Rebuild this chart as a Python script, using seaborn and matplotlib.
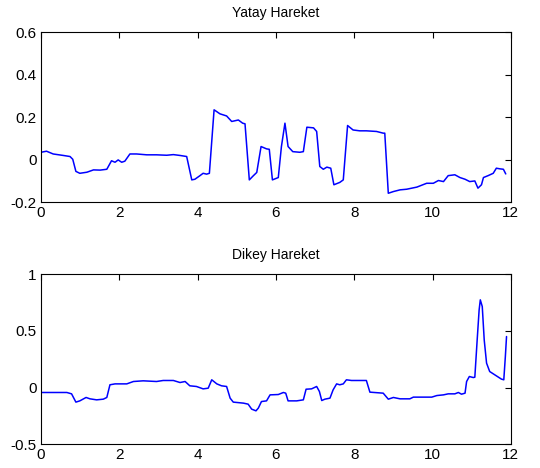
import matplotlib
matplotlib.use("Agg")
import matplotlib.pyplot as plt
import pandas as pd
import seaborn as sns

# Yatay (horizontal) movement
yatay_t = [0.0, 0.14, 0.31, 0.57, 0.74, 0.81, 0.89, 0.99, 1.17, 1.34, 1.51, 1.68,
           1.80, 1.89, 1.97, 2.06, 2.14, 2.27, 2.44, 2.70, 2.95, 3.21, 3.38, 3.55,
           3.72, 3.85, 3.93, 4.06, 4.14, 4.23, 4.30, 4.42, 4.57, 4.74, 4.87, 5.04,
           5.15, 5.21, 5.32, 5.42, 5.51, 5.62, 5.76, 5.83, 5.91, 6.06, 6.14, 6.23,
           6.31, 6.43, 6.61, 6.70, 6.79, 6.96, 7.04, 7.12, 7.21, 7.30, 7.40, 7.48,
           7.63, 7.72, 7.83, 7.97, 8.14, 8.31, 8.57, 8.74, 8.78, 8.87, 9.00, 9.17,
           9.34, 9.60, 9.85, 10.02, 10.15, 10.28, 10.40, 10.57, 10.70, 10.83, 10.95,
           11.08, 11.16, 11.25, 11.30, 11.42, 11.55, 11.63, 11.72, 11.81, 11.87]
yatay_v = [0.035, 0.04, 0.027, 0.02, 0.015, 0.002, -0.055, -0.064, -0.059, -0.048,
           -0.049, -0.045, -0.005, -0.012, -0.001, -0.012, -0.007, 0.027, 0.027,
           0.023, 0.023, 0.021, 0.024, 0.02, 0.015, -0.095, -0.092, -0.075, -0.064,
           -0.068, -0.064, 0.235, 0.216, 0.206, 0.18, 0.187, 0.172, 0.169, -0.095,
           -0.076, -0.06, 0.062, 0.051, 0.049, -0.095, -0.084, 0.062, 0.172, 0.062,
           0.038, 0.035, 0.038, 0.153, 0.15, 0.133, -0.032, -0.045, -0.035, -0.04,
           -0.118, -0.107, -0.095, 0.161, 0.14, 0.136, 0.136, 0.133, 0.125, 0.125,
           -0.158, -0.15, -0.142, -0.139, -0.129, -0.111, -0.111, -0.098, -0.103,
           -0.075, -0.071, -0.084, -0.092, -0.103, -0.1, -0.134, -0.118, -0.084,
           -0.075, -0.064, -0.04, -0.043, -0.045, -0.067]

# Dikey (vertical) movement
dikey_t = [0.0, 0.66, 0.78, 0.89, 0.99, 1.15, 1.25, 1.42, 1.59, 1.68, 1.76, 1.89,
           2.19, 2.36, 2.61, 2.95, 3.12, 3.38, 3.55, 3.68, 3.80, 3.97, 4.14, 4.27,
           4.36, 4.49, 4.61, 4.74, 4.83, 4.91, 5.17, 5.29, 5.38, 5.49, 5.55, 5.63,
           5.76, 5.85, 6.06, 6.19, 6.25, 6.31, 6.53, 6.70, 6.77, 6.91, 7.04, 7.11,
           7.17, 7.25, 7.38, 7.46, 7.55, 7.63, 7.72, 7.80, 7.93, 8.31, 8.40, 8.74,
           8.87, 9.00, 9.17, 9.42, 9.51, 9.98, 10.11, 10.28, 10.40, 10.57, 10.66,
           10.74, 10.83, 10.87, 10.94, 11.04, 11.08, 11.14, 11.19, 11.22, 11.27,
           11.32, 11.38, 11.46, 11.63, 11.76, 11.82, 11.86, 11.89]
dikey_v = [-0.044, -0.044, -0.056, -0.129, -0.118, -0.088, -0.1, -0.109, -0.103,
           -0.088, 0.024, 0.032, 0.032, 0.053, 0.059, 0.053, 0.062, 0.062, 0.044,
           0.053, 0.015, 0.009, -0.012, -0.006, 0.068, 0.032, 0.015, 0.009, -0.094,
           -0.129, -0.138, -0.147, -0.191, -0.206, -0.182, -0.124, -0.118, -0.065,
           -0.062, -0.044, -0.05, -0.118, -0.118, -0.109, -0.015, -0.012, 0.009,
           -0.035, -0.115, -0.103, -0.094, -0.021, 0.032, 0.024, 0.032, 0.068,
           0.062, 0.062, -0.041, -0.05, -0.103, -0.088, -0.1, -0.1, -0.085, -0.085,
           -0.071, -0.065, -0.056, -0.056, -0.044, -0.059, -0.05, 0.053, 0.097,
           0.088, 0.091, 0.42, 0.685, 0.774, 0.715, 0.42, 0.215, 0.141, 0.103,
           0.074, 0.068, 0.274, 0.45]

x_ticks = [0, 2, 4, 6, 8, 10, 12]
yatay_ticks = [-0.2, 0, 0.2, 0.4, 0.6]
yatay_ticklabels = ["-0.2", "0", "0.2", "0.4", "0.6"]
dikey_ticks = [-0.5, 0, 0.5, 1]
dikey_ticklabels = ["-0.5", "0", "0.5", "1"]

sns.set_style("white")
plt.rcParams["font.family"] = ["Liberation Sans", "DejaVu Sans"]
plt.rcParams["xtick.direction"] = "in"
plt.rcParams["ytick.direction"] = "in"

fig = plt.figure(figsize=(5.4, 4.68), dpi=100)
ax_top = fig.add_axes([0.076, 0.568, 0.870, 0.363])
ax_bot = fig.add_axes([0.076, 0.051, 0.870, 0.363])

panels = [
    (ax_top, yatay_t, yatay_v, "Yatay Hareket", (-0.2, 0.6), yatay_ticks, yatay_ticklabels),
    (ax_bot, dikey_t, dikey_v, "Dikey Hareket", (-0.5, 1), dikey_ticks, dikey_ticklabels),
]

for ax, t, v, title, ylim, yt, ytl in panels:
    df = pd.DataFrame({"t": t, "v": v})
    sns.lineplot(data=df, x="t", y="v", ax=ax, color="#0000ff", linewidth=1.1)
    ax.set_xlim(0, 12)
    ax.set_ylim(*ylim)
    ax.set_xticks(x_ticks)
    ax.set_xticklabels([str(x) for x in x_ticks])
    ax.set_yticks(yt)
    ax.set_yticklabels(ytl)
    ax.set_xlabel("")
    ax.set_ylabel("")
    ax.set_title(title, fontsize=10, pad=11, color="black")
    ax.tick_params(axis="both", labelsize=11, length=4, width=0.8, colors="black",
                   top=True, right=True, pad=3)
    for s in ax.spines.values():
        s.set_visible(True)
        s.set_color("black")
        s.set_linewidth(0.8)

fig.savefig("out.png", dpi=100)
